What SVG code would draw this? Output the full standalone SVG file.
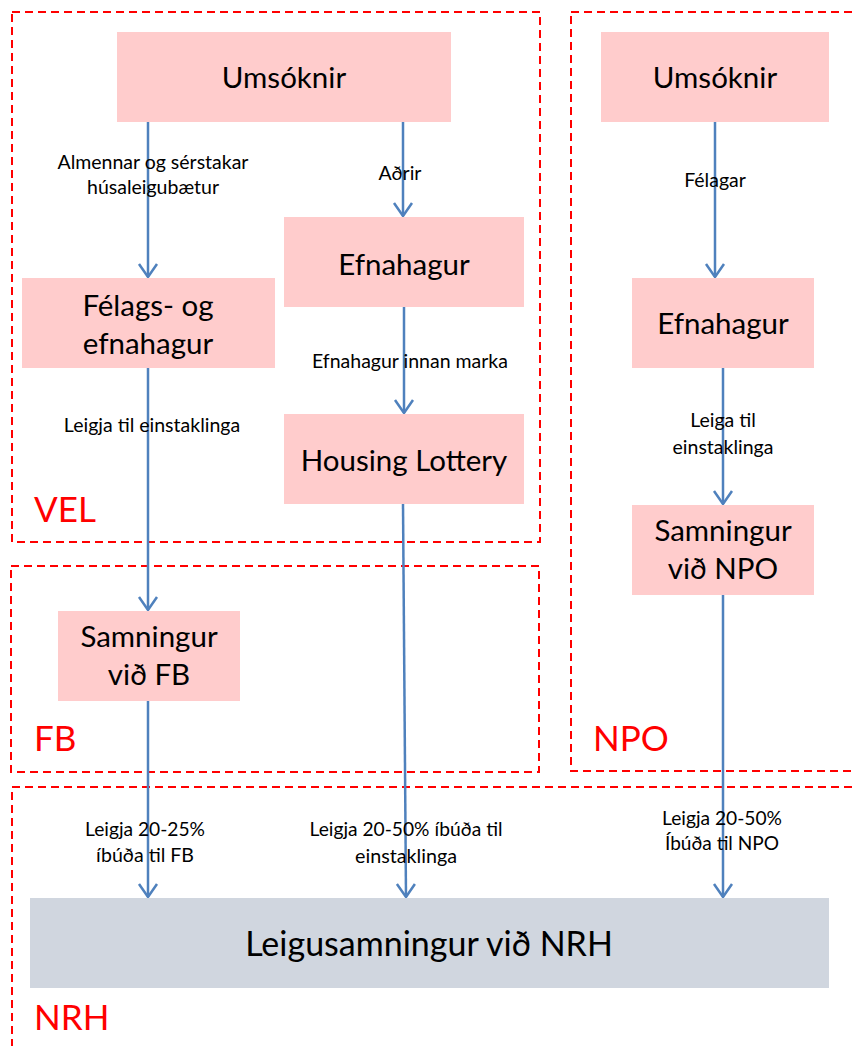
<svg xmlns="http://www.w3.org/2000/svg" width="856" height="1046" viewBox="0 0 856 1046">
<style>
.grp{fill:none;stroke:#FF0000;stroke-width:2;stroke-dasharray:8 5}
.node{fill:#FFCCCC}
.nrh{fill:#D0D6DF}
.nt{font-family:Lato,"Liberation Sans",sans-serif;font-size:29.5px;fill:#000;text-anchor:middle}
.lt{font-family:Lato,"Liberation Sans",sans-serif;font-size:19.5px;fill:#000;text-anchor:middle}
.bt{font-family:Lato,"Liberation Sans",sans-serif;font-size:20px;fill:#000;text-anchor:middle}
.gt{font-family:Lato,"Liberation Sans",sans-serif;font-size:35px;fill:#FF0000}
.edge{stroke:#4F81BD;stroke-width:2.5;fill:none;marker-end:url(#arr)}
</style>
<defs>
<marker id="arr" markerUnits="userSpaceOnUse" viewBox="-16 -12 18 24" refX="0" refY="0" markerWidth="18" markerHeight="24" orient="auto">
<path d="M-13,-9 L0,0 L-13,9" fill="none" stroke="#4F81BD" stroke-width="2.5"/>
</marker>
</defs>
<rect width="856" height="1046" fill="#FFFFFF"/>
<g id="groups">
<g id="VEL"><rect class="grp" x="12" y="12" width="528" height="530"/><text class="gt" x="34" y="522">VEL</text></g>
<g id="NPO"><rect class="grp" x="571" y="12" width="300" height="759"/><text class="gt" x="593" y="751">NPO</text></g>
<g id="FB"><rect class="grp" x="11" y="566" width="528" height="206"/><text class="gt" x="34" y="751">FB</text></g>
<g id="NRH"><rect class="grp" x="12" y="787" width="870" height="300"/><text class="gt" x="34" y="1030">NRH</text></g>
</g>
<g id="connectors">
<line class="edge" x1="148" y1="122" x2="148" y2="277"/>
<line class="edge" x1="403" y1="122" x2="403" y2="216"/>
<line class="edge" x1="715" y1="122" x2="715" y2="277"/>
<line class="edge" x1="404" y1="307" x2="404" y2="413"/>
<line class="edge" x1="148" y1="368" x2="148" y2="610"/>
<line class="edge" x1="723" y1="368" x2="723" y2="504"/>
<line class="edge" x1="148" y1="701" x2="148" y2="897"/>
<line class="edge" x1="403" y1="504" x2="406" y2="897"/>
<line class="edge" x1="723" y1="595" x2="723" y2="897"/>
<text class="lt" x="153" y="169">Almennar og sérstakar</text>
<text class="lt" x="153" y="194">húsaleigubætur</text>
<text class="lt" x="400" y="180">Aðrir</text>
<text class="lt" x="715" y="187">Félagar</text>
<text class="lt" x="410" y="368">Efnahagur innan marka</text>
<text class="lt" x="152" y="432">Leigja til einstaklinga</text>
<text class="lt" x="723" y="427">Leiga til</text>
<text class="lt" x="723" y="454">einstaklinga</text>
<text class="bt" x="145" y="836" textLength="120" lengthAdjust="spacingAndGlyphs">Leigja 20-25%</text>
<text class="bt" x="145" y="862" textLength="98" lengthAdjust="spacingAndGlyphs">íbúða til FB</text>
<text class="bt" x="406" y="836" textLength="193" lengthAdjust="spacingAndGlyphs">Leigja 20-50% íbúða til</text>
<text class="bt" x="406" y="863" textLength="102" lengthAdjust="spacingAndGlyphs">einstaklinga</text>
<text class="bt" x="722" y="825" textLength="120" lengthAdjust="spacingAndGlyphs">Leigja 20-50%</text>
<text class="bt" x="722" y="850" textLength="114" lengthAdjust="spacingAndGlyphs">Íbúða til NPO</text>
</g>
<g id="n_umsoknir_vel"><rect class="node" x="117" y="32" width="334" height="90"/><text class="nt" x="284" y="88">Umsóknir</text></g>
<g id="n_umsoknir_npo"><rect class="node" x="601" y="32" width="228" height="90"/><text class="nt" x="715" y="88">Umsóknir</text></g>
<g id="n_efnahagur_vel"><rect class="node" x="284" y="217" width="240" height="90"/><text class="nt" x="404" y="275">Efnahagur</text></g>
<g id="n_felags"><rect class="node" x="22" y="278" width="253" height="90"/><text class="nt" x="148" y="316">Félags- og</text><text class="nt" x="148" y="354">efnahagur</text></g>
<g id="n_lottery"><rect class="node" x="284" y="414" width="240" height="90"/><text class="nt" x="404" y="471">Housing Lottery</text></g>
<g id="n_efnahagur_npo"><rect class="node" x="632" y="278" width="182" height="90"/><text class="nt" x="723" y="334">Efnahagur</text></g>
<g id="n_samn_npo"><rect class="node" x="632" y="505" width="182" height="90"/><text class="nt" x="723" y="541">Samningur</text><text class="nt" x="723" y="579">við NPO</text></g>
<g id="n_samn_fb"><rect class="node" x="58" y="611" width="182" height="90"/><text class="nt" x="149" y="647">Samningur</text><text class="nt" x="149" y="685">við FB</text></g>
<g id="n_nrh"><rect class="nrh" x="30" y="898" width="799" height="90"/><text class="nt" x="429" y="956" style="font-size:34px">Leigusamningur við NRH</text></g>
</svg>
